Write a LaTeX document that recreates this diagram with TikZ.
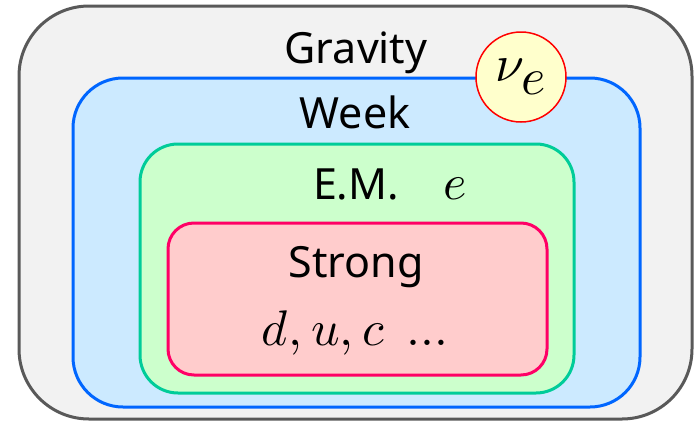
\documentclass[tikz,border=0pt]{standalone}
\usepackage{fontspec}
\usepackage{unicode-math}
\setmainfont{Noto Sans}
\setmathfont{Latin Modern Math}
\definecolor{grayline}{HTML}{595959}
\definecolor{grayfill}{HTML}{F2F2F2}
\definecolor{weekline}{HTML}{0066FF}
\definecolor{weekfill}{HTML}{CCEAFF}
\definecolor{emline}{HTML}{00CC99}
\definecolor{emfill}{HTML}{CCFFCC}
\definecolor{strongline}{HTML}{FF0066}
\definecolor{strongfill}{HTML}{FFCCCC}
\definecolor{nufill}{HTML}{FFFFCC}
\begin{document}
\begin{tikzpicture}[x=1pt,y=-1pt,
  layer/.style={line width=3pt},
  lbl/.style={anchor=base,inner sep=0pt,font=\fontsize{43}{48}\selectfont},
  sym/.style={anchor=base,inner sep=0pt,font=\fontsize{50}{54}\selectfont}]
  \useasboundingbox (0,0) rectangle (697,421);
  \filldraw[layer,draw=grayline,fill=grayfill,rounded corners=70pt] (19,6) rectangle (692,419);
  \filldraw[layer,draw=weekline,fill=weekfill,rounded corners=50pt] (73,78) rectangle (640,407);
  \filldraw[layer,draw=emline,fill=emfill,rounded corners=38pt] (140,144) rectangle (574,393);
  \filldraw[layer,draw=strongline,fill=strongfill,rounded corners=26pt] (168,223) rectangle (547,375);
  \node[lbl] (gravity) at (356,63) {Gravity};
  \node[lbl] (week) at (355,128) {Week};
  \node[lbl] (em) at (356,199) {E.M.};
  \node[lbl] (strong) at (356,277) {Strong};
  \node[sym,anchor=base west] (electron) at (443,199) {$e$};
  \node[sym] (quarks) at (355,345) {$d,u,c\ \ldots$};
  \node[circle,draw=red,line width=1.5pt,fill=nufill,minimum size=90pt,inner sep=0pt,
    font=\fontsize{52}{56}\selectfont] (nu) at (521,77) {$\nu_{\displaystyle e}$};
\end{tikzpicture}
\end{document}
